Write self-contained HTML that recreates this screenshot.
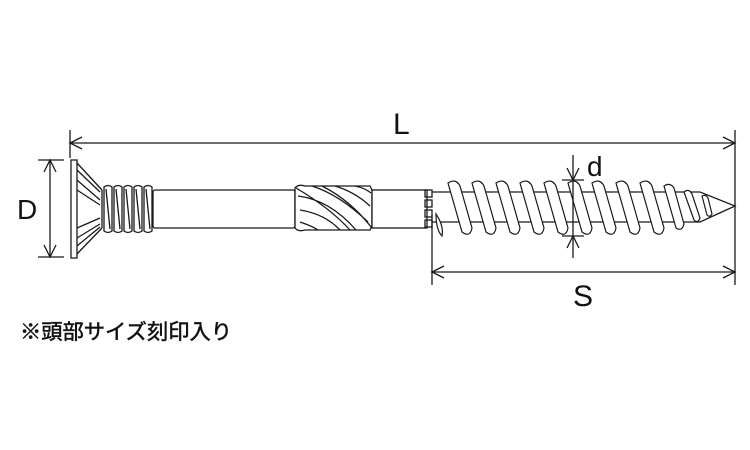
<!DOCTYPE html>
<html><head><meta charset="utf-8"><style>
html,body{margin:0;padding:0;background:#fff;width:750px;height:450px;overflow:hidden}
svg{display:block}
text{font-family:"Liberation Sans",sans-serif;fill:#111}
</style></head><body>
<svg width="750" height="450" viewBox="0 0 750 450" xmlns="http://www.w3.org/2000/svg">
<g stroke="#1a1a1a" stroke-width="1.3" fill="none">
<line x1="70" y1="130" x2="70" y2="158"/>
<line x1="735" y1="130" x2="735" y2="285"/>
<line x1="70" y1="143" x2="735" y2="143"/>
<path d="M82 137 L70 143 L82 149 M723 137 L735 143 L723 149"/>
<line x1="38" y1="160" x2="64" y2="160"/>
<line x1="38" y1="257" x2="64" y2="257"/>
<line x1="50" y1="160" x2="50" y2="257"/>
<path d="M44 172 L50 160 L56 172 M44 245 L50 257 L56 245"/>
<rect x="71" y="160" width="6" height="98" fill="#fff"/>
<path d="M77 163 L102 190 M77 170 L100 192 M77 180 L100 200 M77 190 L100 205 M77 228 L100 218 M77 238 L100 224 M77 246 L100 227 M77 254 L102 228"/>
<path d="M102 190 L102 228"/>
<g>
<path d="M104 187 q4 -3 8 0 l0 44 q-4 3 -8 0 z M114 187 q4 -3 8 0 l0 44 q-4 3 -8 0 z M124 187 q4 -3 8 0 l0 44 q-4 3 -8 0 z M134 187 q4 -3 8 0 l0 44 q-4 3 -8 0 z M144 187 q4 -3 8 0 l0 44 q-4 3 -8 0 z"/>
<path d="M106 189 L110 229 M116 189 L120 229 M126 189 L130 229 M136 189 L140 229 M146 189 L150 229"/>
</g>
<rect x="153" y="190" width="142" height="38" rx="2" fill="#fff"/>
<path d="M295 188 Q298 184 305 186 L370 186 L372 190 L372 226 L370 230 L305 230 Q298 232 295 228 Z" fill="#fff"/>
<path d="M298 196 Q330 200 356 230 M300 210 Q325 214 340 230 M300 222 Q312 226 318 230 M312 186 Q340 195 368 222 M335 186 Q355 192 370 206 M355 186 Q365 188 371 193 M296 188 Q330 208 350 230 M322 186 Q350 200 372 228"/>
<rect x="372" y="190" width="55" height="38" fill="#fff"/>
<rect x="425" y="190" width="7" height="7"/><rect x="425" y="200" width="7" height="7"/><rect x="425" y="210" width="7" height="7"/><rect x="425" y="220" width="7" height="7"/>
<path d="M432 192 L700 192 L735 206 L700 222 L432 222"/>
<line x1="432" y1="215" x2="432" y2="285"/>
<g stroke-width="1.2" fill="#fff">
<path d="M436 214 Q444 226 442 236 Q436 230 436 214 Z"/>
<path d="M448 183 Q456 178 460 186 L472 228 Q470 238 462 232 Z"/>
<path d="M472 183 Q480 178 484 186 L496 228 Q494 238 486 232 Z"/>
<path d="M496 183 Q504 178 508 186 L520 228 Q518 238 510 232 Z"/>
<path d="M520 183 Q528 178 532 186 L544 228 Q542 238 534 232 Z"/>
<path d="M544 183 Q552 178 556 186 L568 228 Q566 238 558 232 Z"/>
<path d="M568 183 Q576 178 580 186 L592 228 Q590 238 582 232 Z"/>
<path d="M592 183 Q600 178 604 186 L616 228 Q614 238 606 232 Z"/>
<path d="M616 183 Q624 178 628 186 L640 228 Q638 238 630 232 Z"/>
<path d="M640 183 Q648 178 652 186 L664 228 Q662 238 654 232 Z"/>
<path d="M664 186 Q670 182 674 188 L684 224 Q682 232 676 228 Z"/>
<path d="M684 192 Q689 188 692 194 L700 218 Q698 224 694 220 Z"/>
<path d="M702 196 Q706 194 708 198 L712 214 Q710 218 707 215 Z"/>
</g>
<line x1="573" y1="155" x2="573" y2="258"/>
<line x1="562" y1="180" x2="584" y2="180"/>
<line x1="562" y1="236" x2="584" y2="236"/>
<path d="M567 168 L573 180 L579 168 M567 248 L573 236 L579 248"/>
<line x1="432" y1="272" x2="735" y2="272"/>
<path d="M444 266 L432 272 L444 278 M723 266 L735 272 L723 278"/>
</g>
<text x="393" y="134" font-size="30">L</text>
<text x="17" y="219" font-size="28">D</text>
<text x="587" y="176" font-size="28">d</text>
<text x="573" y="306" font-size="30">S</text>
<text x="20" y="339" font-size="21" textLength="212" lengthAdjust="spacingAndGlyphs" stroke="#111" stroke-width="0.5" style='font-family:"Liberation Sans","Noto Sans CJK JP",sans-serif'>※頭部サイズ刻印入り</text>
</svg>
</body></html>
